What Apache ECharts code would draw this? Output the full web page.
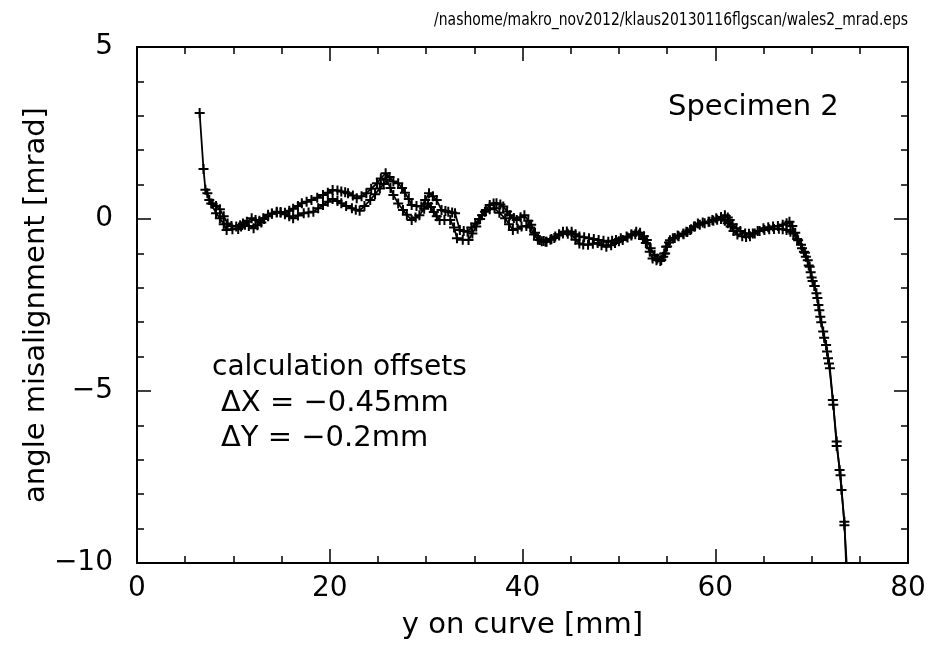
<!DOCTYPE html>
<html>
<head>
<meta charset="utf-8">
<script src="https://cdn.jsdelivr.net/npm/echarts@6/dist/echarts.min.js"></script>
<style>
html,body{margin:0;padding:0;background:#fff;}
#chart{width:929px;height:645px;}
</style>
</head>
<body>
<div id="chart"></div>
<script>
// ---- data ----
const titleText = '/nashome/makro_nov2012/klaus20130116flgscan/wales2_mrad.eps';
const xAxisName = 'y on curve [mm]';
const yAxisName = 'angle misalignment [mrad]';
const specimenText = 'Specimen 2';
const offsetLines = ['calculation offsets', '\u0394X = \u22120.45mm', '\u0394Y = \u22120.2mm'];
const xTicks = [0, 20, 40, 60, 80];
const yTicks = [-10, -5, 0, 5];

// upper curve [y on curve (mm), angle misalignment (mrad)]
const upperCurve = [
 [6.5,3.08],[6.9,1.45],[7.1,0.85],[7.5,0.55],[7.85,0.44],[8.2,0.38],[8.6,0.28],[9.0,0.08],[9.4,-0.13],[9.8,-0.2],
 [10.3,-0.22],[10.7,-0.18],[11.0,-0.13],[11.4,-0.08],[11.9,0.02],[12.3,-0.03],[12.7,-0.05],[13.1,0.02],[13.6,0.12],[14.0,0.16],
 [14.5,0.21],[14.9,0.2],[15.35,0.18],[15.8,0.24],[16.2,0.3],[16.7,0.38],[17.1,0.46],[17.6,0.5],[18.1,0.55],[18.7,0.62],
 [19.3,0.70],[19.8,0.76],[20.3,0.84],[20.8,0.83],[21.2,0.80],[21.6,0.78],[21.9,0.75],[22.4,0.68],[22.8,0.60],[23.3,0.66],
 [23.8,0.75],[24.3,0.88],[24.9,1.04],[25.3,1.18],[25.8,1.33],[26.2,1.22],[26.6,1.09],[27.1,1.04],[27.5,0.9],[27.8,0.76],
 [28.2,0.58],[28.5,0.41],[29.0,0.38],[29.5,0.36],[29.9,0.55],[30.3,0.75],[30.7,0.66],[31.1,0.55],[31.6,0.26],[32.0,0.23],
 [32.3,0.21],[32.7,0.19],[33.0,0.17],[33.5,-0.32],[33.9,-0.35],[34.3,-0.37],[34.7,-0.25],[35.1,-0.13],[35.5,0.0],[35.8,0.11],
 [36.2,0.26],[36.6,0.41],[37.0,0.45],[37.3,0.46],[37.7,0.42],[38.0,0.36],[38.4,0.22],[38.7,0.11],[39.1,0.03],[39.4,-0.03],
 [39.8,0.05],[40.2,0.11],[40.6,-0.05],[40.9,-0.17],[41.3,-0.4],[41.8,-0.61],[42.2,-0.64],[42.5,-0.66],[43.0,-0.58],[43.4,-0.51],
 [43.8,-0.44],[44.2,-0.37],[44.6,-0.36],[45.1,-0.37],[45.5,-0.44],[45.9,-0.51],[46.4,-0.53],[46.9,-0.56],[47.4,-0.58],[47.9,-0.61],
 [48.4,-0.63],[48.9,-0.66],[49.3,-0.63],[49.7,-0.61],[50.2,-0.56],[50.8,-0.51],[51.3,-0.44],[51.8,-0.37],[52.2,-0.4],[52.6,-0.5],
 [52.9,-0.61],[53.3,-0.85],[53.7,-1.05],[54.0,-1.15],[54.4,-1.19],[54.7,-1.0],[54.9,-0.81],[55.2,-0.68],[55.6,-0.56],[56.1,-0.48],
 [56.7,-0.42],[57.0,-0.37],[57.4,-0.32],[57.8,-0.22],[58.2,-0.13],[58.7,-0.1],[59.3,-0.08],[59.7,-0.03],[60.1,0.02],[60.6,0.06],
 [61.0,0.11],[61.3,0.04],[61.5,-0.03],[61.8,-0.15],[62.2,-0.27],[62.6,-0.35],[63.1,-0.42],[63.5,-0.43],[63.9,-0.42],[64.4,-0.35],
 [65.0,-0.27],[65.5,-0.24],[66.0,-0.22],[66.5,-0.2],[67.0,-0.17],[67.4,-0.12],[67.7,-0.08],[68.0,-0.2],[68.3,-0.4],[68.6,-0.62],
 [69.0,-0.85],[69.3,-0.98],[69.6,-1.2],[69.8,-1.39],[70.0,-1.7],[70.3,-1.95],[70.5,-2.16],[70.7,-2.5],[70.9,-2.84],[71.2,-3.27],
 [71.5,-3.66],[71.7,-4.05],[71.9,-4.34],[72.2,-5.26],[72.6,-6.47],[72.9,-7.3],[73.1,-7.88],[73.4,-8.8],[73.6,-10.2]
];

// lower curve [y on curve (mm), angle misalignment (mrad)]
const lowerCurve = [
 [7.3,0.75],[7.7,0.45],[8.2,0.17],[8.6,0.02],[9.0,-0.15],[9.3,-0.32],[9.9,-0.3],[10.5,-0.29],[10.8,-0.22],[11.2,-0.17],
 [11.6,-0.2],[12.1,-0.27],[12.5,-0.18],[12.9,-0.10],[13.2,0.0],[13.6,0.08],[14.0,0.15],[14.5,0.19],[14.9,0.18],[15.35,0.14],
 [15.8,0.08],[16.2,0.02],[16.7,0.1],[17.3,0.17],[17.8,0.19],[18.3,0.21],[18.8,0.31],[19.3,0.41],[19.8,0.5],[20.3,0.58],
 [20.8,0.52],[21.2,0.46],[21.7,0.38],[22.3,0.31],[22.7,0.27],[23.1,0.24],[23.6,0.38],[24.2,0.55],[24.7,0.72],[25.2,0.89],
 [25.6,1.02],[25.9,1.14],[26.3,0.9],[26.6,0.7],[27.1,0.45],[27.6,0.26],[28.0,0.12],[28.5,-0.03],[28.9,0.04],[29.3,0.11],
 [29.8,0.3],[30.2,0.45],[30.5,0.35],[30.8,0.2],[31.1,0.08],[31.4,-0.03],[31.9,-0.03],[32.5,-0.03],[32.9,-0.25],[33.2,-0.56],
 [33.8,-0.6],[34.4,-0.61],[34.8,-0.42],[35.2,-0.22],[35.6,0.0],[36.1,0.21],[36.6,0.28],[37.1,0.31],[37.6,0.18],[38.2,0.02],
 [38.6,-0.15],[39.0,-0.32],[39.5,-0.28],[39.9,-0.22],[40.4,-0.2],[40.8,-0.25],[41.2,-0.45],[41.6,-0.6],[42.0,-0.65],[42.4,-0.66],
 [42.9,-0.6],[43.3,-0.55],[43.8,-0.48],[44.2,-0.42],[44.7,-0.43],[45.1,-0.45],[45.5,-0.6],[45.9,-0.71],[46.3,-0.74],[46.8,-0.75],
 [47.3,-0.72],[47.8,-0.7],[48.2,-0.76],[48.7,-0.81],[49.2,-0.76],[49.6,-0.7],[50.0,-0.65],[50.4,-0.61],[50.9,-0.54],[51.3,-0.48],
 [51.7,-0.44],[52.1,-0.45],[52.5,-0.58],[52.8,-0.7],[53.2,-0.95],[53.5,-1.15],[53.9,-1.2],[54.3,-1.22],[54.6,-1.1],[54.8,-1.0],
 [55.0,-0.8],[55.3,-0.62],[55.8,-0.55],[56.2,-0.5],[56.7,-0.44],[57.1,-0.38],[57.5,-0.3],[57.9,-0.22],[58.4,-0.17],[58.9,-0.12],
 [59.4,-0.08],[59.8,-0.05],[60.2,-0.02],[60.6,0.0],[61.0,-0.05],[61.3,-0.12],[61.6,-0.22],[61.9,-0.35],[62.3,-0.45],[62.8,-0.5],
 [63.2,-0.52],[63.6,-0.5],[64.1,-0.42],[64.6,-0.35],[65.1,-0.32],[65.6,-0.3],[66.1,-0.29],[66.6,-0.28],[67.0,-0.3],[67.4,-0.32],
 [67.8,-0.37],[68.1,-0.42],[68.5,-0.58],[68.9,-0.75],[69.2,-0.95],[69.4,-1.1],[69.7,-1.35],[69.9,-1.55],[70.1,-1.8],[70.3,-1.95],
 [70.6,-2.3],[70.8,-2.65],[71.0,-3.0],[71.3,-3.45],[71.6,-3.85],[71.8,-4.2],[72.25,-5.4],[72.6,-6.6],[73.0,-7.45],[73.4,-8.9],
 [73.7,-10.3]
];

// ---- chart ----
const FONT = 'DejaVu Sans';
const plusSymbol = 'path://M0,4H4V0H6V4H10V6H6V10H4V6H0Z';
const minus = v => String(v).replace('-', '\u2212');

const axisCommon = {
  type: 'value',
  splitLine: { show: false },
  axisLine: { show: true, onZero: false, lineStyle: { color: '#000', width: 2 } },
  axisTick: { show: true, inside: true, length: 14, lineStyle: { color: '#000', width: 1.5 } },
  minorTick: { show: true, length: 7, lineStyle: { color: '#000', width: 1.5 } },
  minorSplitLine: { show: false }
};

const chart = echarts.init(document.getElementById('chart'), null, { renderer: 'canvas' });
chart.setOption({
  animation: false,
  backgroundColor: '#fff',
  grid: { left: 137, top: 47, right: 21, bottom: 82, containLabel: false },
  xAxis: [
    Object.assign({}, axisCommon, {
      position: 'bottom', min: xTicks[0], max: xTicks[xTicks.length - 1], interval: 20,
      minorTick: Object.assign({}, axisCommon.minorTick, { splitNumber: 4 }),
      name: xAxisName, nameLocation: 'middle', nameGap: 48, nameMoveOverlap: false,
      nameTextStyle: { fontFamily: FONT, fontSize: 29, color: '#000' },
      axisLabel: { show: true, margin: 12, fontFamily: FONT, fontSize: 28, color: '#000', formatter: minus }
    }),
    Object.assign({}, axisCommon, {
      position: 'top', min: xTicks[0], max: xTicks[xTicks.length - 1], interval: 20,
      minorTick: Object.assign({}, axisCommon.minorTick, { splitNumber: 4 }),
      axisLabel: { show: false }
    })
  ],
  yAxis: [
    Object.assign({}, axisCommon, {
      position: 'left', min: yTicks[0], max: yTicks[yTicks.length - 1], interval: 5,
      minorTick: Object.assign({}, axisCommon.minorTick, { splitNumber: 5 }),
      name: yAxisName, nameLocation: 'middle', nameGap: 86, nameRotate: 90, nameMoveOverlap: false,
      nameTextStyle: { fontFamily: FONT, fontSize: 29, color: '#000' },
      axisLabel: { show: true, margin: 24, fontFamily: FONT, fontSize: 28, color: '#000', formatter: minus }
    }),
    Object.assign({}, axisCommon, {
      position: 'right', min: yTicks[0], max: yTicks[yTicks.length - 1], interval: 5,
      minorTick: Object.assign({}, axisCommon.minorTick, { splitNumber: 5 }),
      axisLabel: { show: false }
    })
  ],
  series: [
    {
      type: 'line', xAxisIndex: 0, yAxisIndex: 0, data: upperCurve, clip: true,
      symbol: plusSymbol, symbolSize: 10, showSymbol: true,
      lineStyle: { color: '#000', width: 1.8 }, itemStyle: { color: '#000' }
    },
    {
      type: 'line', xAxisIndex: 0, yAxisIndex: 0, data: lowerCurve, clip: true,
      symbol: plusSymbol, symbolSize: 10, showSymbol: true,
      lineStyle: { color: '#000', width: 1.8 }, itemStyle: { color: '#000' }
    }
  ],
  graphic: [
    { type: 'text', x: 908, y: 21, scaleX: 0.82, style: { text: titleText, fill: '#000', font: '17px "' + FONT + '"', align: 'right', verticalAlign: 'middle' } },
    { type: 'text', x: 668, y: 107, style: { text: specimenText, fill: '#000', font: '29px "' + FONT + '"', align: 'left', verticalAlign: 'middle' } },
    { type: 'text', x: 212, y: 368, style: { text: offsetLines[0], fill: '#000', font: '28px "' + FONT + '"', align: 'left', verticalAlign: 'middle' } },
    { type: 'text', x: 221, y: 403, style: { text: offsetLines[1], fill: '#000', font: '29px "' + FONT + '"', align: 'left', verticalAlign: 'middle' } },
    { type: 'text', x: 221, y: 438, style: { text: offsetLines[2], fill: '#000', font: '29px "' + FONT + '"', align: 'left', verticalAlign: 'middle' } }
  ]
});
</script>
</body>
</html>
